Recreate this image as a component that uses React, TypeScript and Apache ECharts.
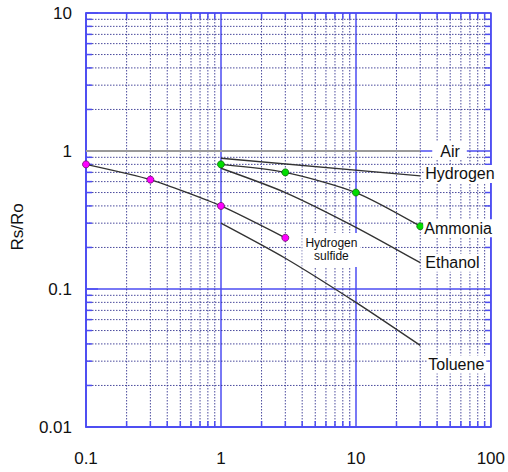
import React, { useEffect, useRef } from "react";
import * as echarts from "echarts";

// Axis tick values
const xMajor = [0.1, 1, 10, 100];
const yMajor = [0.01, 0.1, 1, 10];
const xMinor = [0.2, 0.3, 0.4, 0.5, 0.6, 0.7, 0.8, 0.9, 2, 3, 4, 5, 6, 7, 8, 9, 20, 30, 40, 50, 60, 70, 80, 90];
const yMinor = [0.02, 0.03, 0.04, 0.05, 0.06, 0.07, 0.08, 0.09, 0.2, 0.3, 0.4, 0.5, 0.6, 0.7, 0.8, 0.9, 2, 3, 4, 5, 6, 7, 8, 9];

// Gas concentration (x) vs Rs/Ro (y)
const airX = [0.1, 30];
const airY = [1, 1];
const hydrogenX = [1, 30];
const hydrogenY = [0.885, 0.66];
const ammoniaX = [1, 3, 10, 30];
const ammoniaY = [0.8, 0.7, 0.5, 0.285];
const ethanolX = [1, 3, 10, 30];
const ethanolY = [0.75, 0.5, 0.28, 0.155];
const tolueneX = [1, 3, 10, 30];
const tolueneY = [0.3, 0.167, 0.08, 0.039];
const h2sX = [0.1, 0.3, 1, 3];
const h2sY = [0.8, 0.62, 0.4, 0.235];

const BLUE = "#4d4df2";
const DOT = "#2c2c8c";
const LINE = "#333333";
const FONT = "Liberation Sans, Arial, Helvetica, sans-serif";

const pairs = (xs: number[], ys: number[]) => xs.map((x, i) => [x, ys[i]]);

export default function App() {
  const ref = useRef<HTMLDivElement>(null);
  useEffect(() => {
    document.body.style.margin = "0";
    if (!ref.current) return;
    const chart = echarts.init(ref.current, null, { renderer: "svg" });

    const endLabel = (text: string, distance: number, offset: number[], padding: number[]) => ({
      show: true,
      formatter: text,
      distance,
      offset,
      fontSize: 16,
      fontFamily: FONT,
      color: "#111",
      backgroundColor: "#fff",
      padding,
    });

    const lineSeries = (name: string, xs: number[], ys: number[], extra: any) => ({
      type: "line",
      name,
      data: pairs(xs, ys),
      showSymbol: false,
      symbol: "none",
      lineStyle: { color: LINE, width: 1.4 },
      z: 5,
      ...extra,
    });

    chart.setOption({
      animation: false,
      backgroundColor: "#fff",
      grid: {
        left: 86,
        right: 16,
        top: 13,
        bottom: 45,
        show: true,
        borderColor: BLUE,
        borderWidth: 1.5,
        backgroundColor: "transparent",
      },
      xAxis: {
        type: "log",
        logBase: 10,
        min: xMajor[0],
        max: xMajor[xMajor.length - 1],
        axisLine: { show: true, lineStyle: { color: BLUE, width: 1.5 } },
        axisTick: { show: false },
        axisLabel: {
          fontSize: 17,
          fontFamily: FONT,
          color: "#111",
          margin: 23,
          formatter: (v: number) => String(v),
        },
        splitLine: { show: true, lineStyle: { color: BLUE, width: 1.5, type: "solid" } },
      },
      yAxis: {
        type: "log",
        logBase: 10,
        min: yMajor[0],
        max: yMajor[yMajor.length - 1],
        name: "Rs/Ro",
        nameLocation: "middle",
        nameGap: 60,
        nameTextStyle: { fontSize: 17, fontFamily: FONT, color: "#111", padding: [0, 14, 0, 0] },
        axisLine: { show: true, lineStyle: { color: BLUE, width: 1.5 } },
        axisTick: { show: true, inside: true, length: 12, lineStyle: { color: BLUE, width: 1.5 } },
        axisLabel: {
          fontSize: 17,
          fontFamily: FONT,
          color: "#111",
          margin: 14,
          formatter: (v: number) => String(v),
        },
        splitLine: { show: true, lineStyle: { color: BLUE, width: 1.5, type: "solid" } },
      },
      series: [
        {
          type: "custom",
          name: "xminor",
          silent: true,
          z: 1,
          data: xMinor.map((v) => [v, 1]),
          renderItem: (params: any, api: any) => {
            const cs = params.coordSys;
            const p = api.coord([api.value(0), 1]);
            const x = p[0];
            return {
              type: "group",
              children: [
                { type: "line", shape: { x1: x, y1: cs.y, x2: x, y2: cs.y + cs.height }, style: { stroke: DOT, lineWidth: 1, lineDash: [1.5, 1.5], opacity: 0.85 } },
                { type: "line", shape: { x1: x, y1: cs.y, x2: x, y2: cs.y + 6 }, style: { stroke: BLUE, lineWidth: 1.5 } },
                { type: "line", shape: { x1: x, y1: cs.y + cs.height, x2: x, y2: cs.y + cs.height - 6 }, style: { stroke: BLUE, lineWidth: 1.5 } },
              ],
            };
          },
        },
        {
          type: "custom",
          name: "yminor",
          silent: true,
          z: 1,
          data: yMinor.map((v) => [1, v]),
          renderItem: (params: any, api: any) => {
            const cs = params.coordSys;
            const p = api.coord([1, api.value(1)]);
            const y = p[1];
            return {
              type: "group",
              children: [
                { type: "line", shape: { x1: cs.x, y1: y, x2: cs.x + cs.width, y2: y }, style: { stroke: DOT, lineWidth: 1, lineDash: [1.5, 1.5], opacity: 0.85 } },
                { type: "line", shape: { x1: cs.x, y1: y, x2: cs.x + 6, y2: y }, style: { stroke: BLUE, lineWidth: 1.5 } },
                { type: "line", shape: { x1: cs.x + cs.width, y1: y, x2: cs.x + cs.width - 6, y2: y }, style: { stroke: BLUE, lineWidth: 1.5 } },
              ],
            };
          },
        },
        lineSeries("Air", airX, airY, {
          lineStyle: { color: "#9a9a9a", width: 2 },
          endLabel: endLabel("Air", 12, [0, 0], [1, 7, 1, 8]),
        }),
        lineSeries("Hydrogen", hydrogenX, hydrogenY, {
          endLabel: endLabel("Hydrogen", 4, [0, -2], [1, 2, 1, 1]),
        }),
        lineSeries("Ammonia", ammoniaX, ammoniaY, {
          smooth: 0.25,
          showSymbol: true,
          symbol: "circle",
          symbolSize: 7,
          itemStyle: { color: "#00dd00", borderColor: "#116611", borderWidth: 0.8 },
          endLabel: endLabel("Ammonia", 3, [0, 2], [1, 2, 1, 1]),
        }),
        lineSeries("Ethanol", ethanolX, ethanolY, {
          smooth: 0.25,
          endLabel: endLabel("Ethanol", 4, [0, 0], [1, 2, 1, 1]),
        }),
        lineSeries("Toluene", tolueneX, tolueneY, {
          smooth: 0.25,
          endLabel: endLabel("Toluene", 7, [0, 19], [1, 2, 1, 1]),
        }),
        lineSeries("Hydrogen sulfide", h2sX, h2sY, {
          smooth: 0.2,
          showSymbol: true,
          symbol: "circle",
          symbolSize: 7,
          itemStyle: { color: "#ff00ff", borderColor: "#661166", borderWidth: 0.8 },
          data: pairs(h2sX, h2sY).map((p, i) =>
            i === h2sX.length - 1
              ? {
                  value: p,
                  label: {
                    show: true,
                    formatter: "Hydrogen\nsulfide",
                    position: [50, 16],
                    align: "center",
                    verticalAlign: "middle",
                    fontSize: 12,
                    lineHeight: 13,
                    fontFamily: FONT,
                    color: "#111",
                    backgroundColor: "#fff",
                    padding: [4, 3, 4, 3],
                  },
                }
              : p
          ),
        }),
      ],
    });
    return () => chart.dispose();
  }, []);
  return <div ref={ref} style={{ width: 508, height: 472 }} />;
}
